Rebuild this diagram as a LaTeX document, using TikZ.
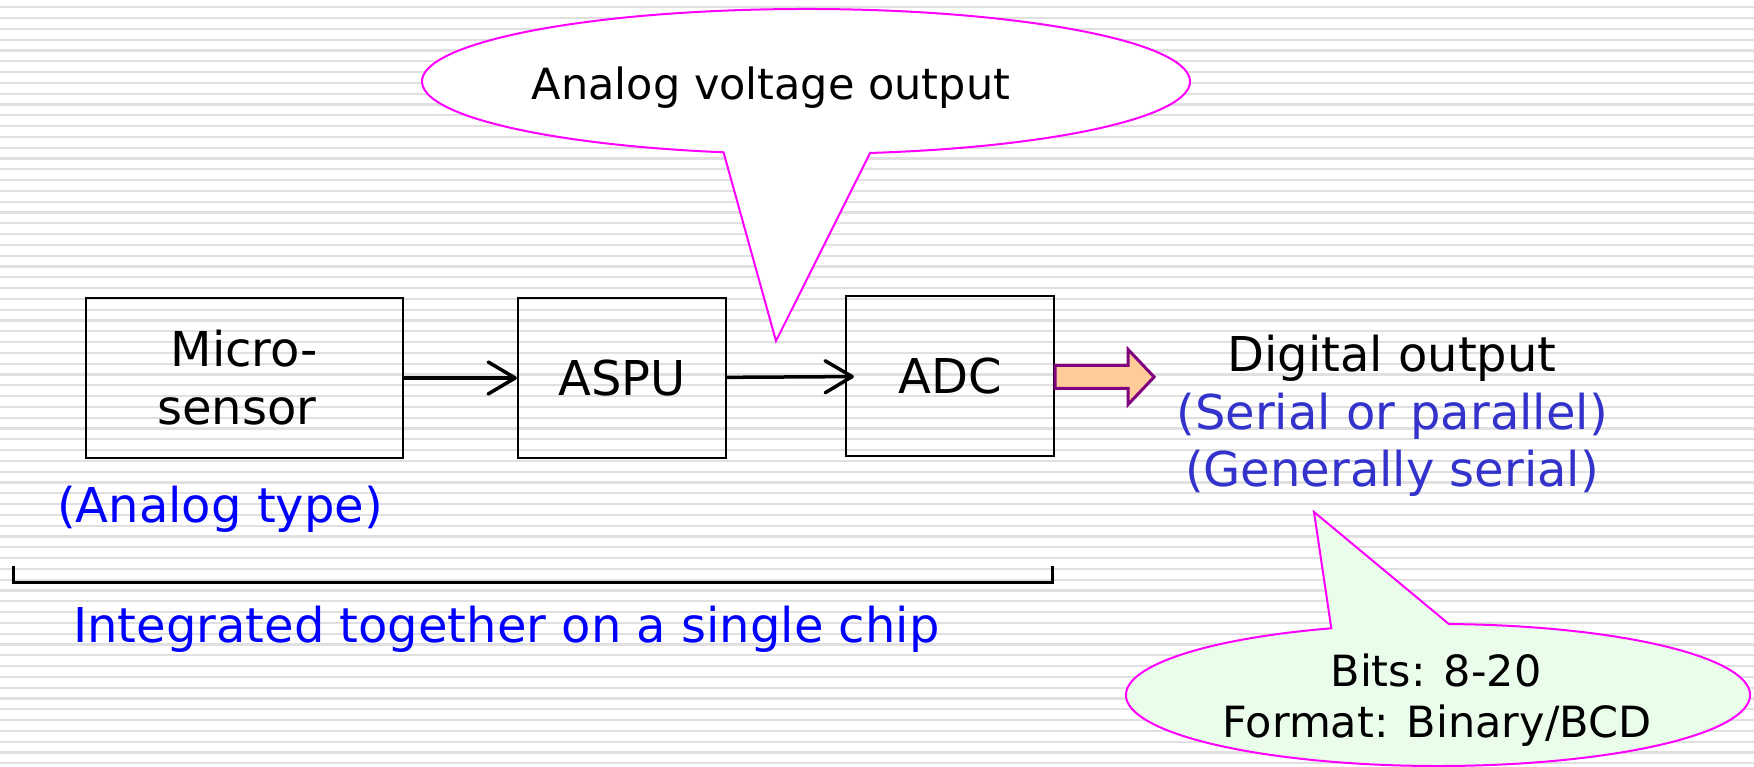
\documentclass[tikz,border=0pt]{standalone}
\usepackage{fontspec}
\setmainfont{DejaVu Sans}
\usetikzlibrary{arrows.meta,calc}
\definecolor{stripe}{HTML}{E0E0E0}
\definecolor{callmag}{HTML}{FF00FF}
\definecolor{callgreen}{HTML}{EAFCEA}
\definecolor{arrfill}{HTML}{FFCC99}
\definecolor{arrdraw}{HTML}{800080}
\definecolor{pureblue}{HTML}{0000FF}
\definecolor{softblue}{HTML}{3333CC}
\begin{document}
\begin{tikzpicture}[x=1pt,y=1pt,
  blockbox/.style={draw=black, line width=2.2pt, minimum width=#1, minimum height=160pt, inner sep=0pt, align=center, font=\fontsize{48}{58}\selectfont},
  bigtext/.style={inner sep=0pt, font=\fontsize{48}{58}\selectfont},
  calltext/.style={inner sep=0pt, font=\fontsize{43}{51}\selectfont},
  flow/.style={line width=3.5pt, -{Straight Barb[length=27pt,width=32pt,round]}},
  callshape/.style={draw=callmag, line width=2pt},
  fatarrow/.style={draw=arrdraw, fill=arrfill, line width=3pt, line join=miter},
]
\useasboundingbox (0,0) rectangle (1754,767);
\clip (0,0) rectangle (1754,767);
\fill[white] (0,0) rectangle (1754,767);
\foreach \k in {0,...,70} \draw[stripe, line width=2.3pt] (0,{759.7-10.8*\k}) -- (1754,{759.7-10.8*\k});

% top callout
\coordinate (c1) at (806,685.5);
\coordinate (tip1) at (776,426);
\draw[callshape, fill=white] (c1) ++(-80.4:384pt and 72.5pt) arc[start angle=-80.4, end angle=257.6, x radius=384pt, y radius=72.5pt] -- (tip1) -- cycle;
\node[calltext, anchor=base] (calltxt1) at (771,667) {Analog voltage output};

% bottom callout
\coordinate (c2) at (1438,72);
\coordinate (tip2) at (1314,255);
\draw[callshape, fill=callgreen] (c2) ++(110:312pt and 71pt) arc[start angle=110, end angle=448, x radius=312pt, y radius=71pt] -- (tip2) -- cycle;
\node[calltext, anchor=base] (bits) at (1436,80) {Bits: 8-20};
\node[calltext, anchor=base] (fmt) at (1437,29) {Format: Binary/BCD};

% blocks
\node[blockbox=317pt] (micro) at (244.5,389) {Micro-\\sensor\hspace*{15pt}};
\node[blockbox=208pt] (aspu) at (622,389) {ASPU};
\node[blockbox=208pt] (adc) at (950,391) {ADC};

\draw[flow] (micro) -- (aspu);
\draw[flow, shorten >=-9pt] (aspu) -- (adc);

\draw[fatarrow] (adc.east) ++(0,10.5) -- ++(73,0) -- ++(0,16) -- ++(26,-27.5) -- ++(-26,-27.5) -- ++(0,16) -- ++(-73,0) -- cycle;

% digital output text
\node[bigtext, anchor=base] (dig1) at (1392,395) {Digital output};
\node[bigtext, anchor=base, text=softblue] (dig2) at (1392,337.5) {(Serial or parallel)};
\node[bigtext, anchor=base, text=softblue] (dig3) at (1392,280) {(Generally serial)};

% analog type
\node[bigtext, anchor=base west, text=pureblue] (atype) at (57,244) {(Analog type)};

% bracket
\coordinate (brL) at (13,201);
\coordinate (brR) at (1052,201);
\draw[line width=3pt] (brL) -- ++(0,-17) -| (brR);

\node[bigtext, anchor=base west, text=pureblue] (chip) at (73,124) {Integrated together on a single chip};
\end{tikzpicture}
\end{document}
